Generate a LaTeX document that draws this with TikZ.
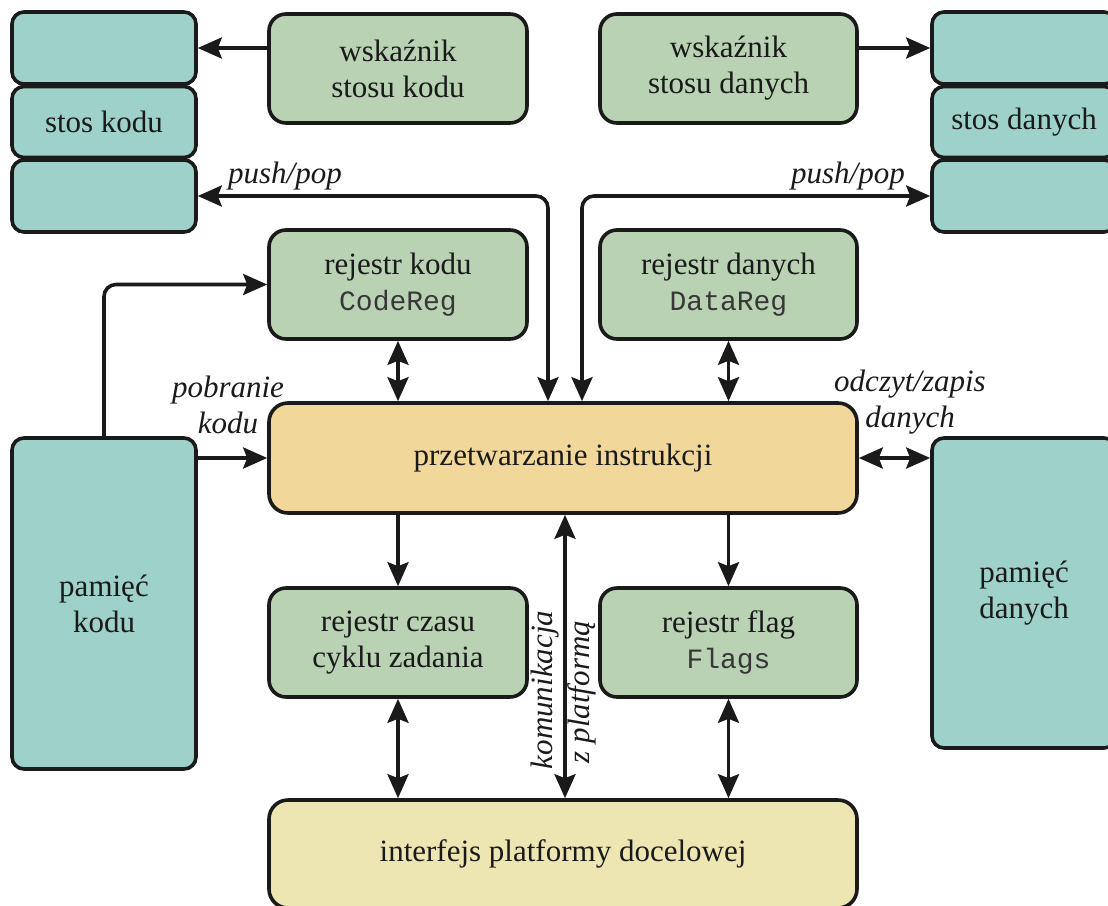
\documentclass[tikz,border=0pt]{standalone}
\usepackage{fontspec}
\setmainfont{Liberation Serif}
\setmonofont{Liberation Mono}
\usetikzlibrary{arrows.meta,calc}
\definecolor{cTeal}{RGB}{157,209,201}
\definecolor{cGreen}{RGB}{185,210,180}
\definecolor{cOrange}{RGB}{241,216,154}
\definecolor{cYellow}{RGB}{238,230,178}
\definecolor{cLine}{RGB}{26,26,26}
\definecolor{cMono}{RGB}{55,55,55}
\begin{document}
\begin{tikzpicture}[x=1pt,y=-1pt,
  box/.style={draw=cLine, line width=3.6pt, inner sep=0pt, align=center,
    font=\fontsize{31}{36}\selectfont, text=cLine},
  tealbox/.style={box, fill=cTeal, rounded corners=12pt},
  greenbox/.style={box, fill=cGreen, rounded corners=17pt},
  lbl/.style={font=\fontsize{31}{36}\selectfont\itshape, text=cLine, align=center, inner sep=0pt},
  tip/.tip={Stealth[length=24pt,width=21pt,inset=4pt]},
  arr/.style={draw=cLine, line width=3.6pt, -tip},
  dbl/.style={draw=cLine, line width=3.6pt, tip-tip}]
\useasboundingbox (0,0) rectangle (1108,905);
\clip (0,0) rectangle (1108,905);
\newcommand{\mtxt}[1]{{\color{cMono}\fontsize{28}{36}\selectfont\ttfamily #1}}
% stacks
\node[tealbox, minimum width=184pt, minimum height=72pt] (ls1) at (104,48) {};
\node[tealbox, minimum width=184pt, minimum height=71pt] (ls2) at (104,122) {stos kodu};
\node[tealbox, minimum width=184pt, minimum height=72pt] (ls3) at (104,196) {};
\node[tealbox, minimum width=184pt, minimum height=72pt] (rs1) at (1024,48) {};
\node[tealbox, minimum width=184pt, minimum height=71pt] (rs2) at (1024,122) {stos danych};
\node[tealbox, minimum width=184pt, minimum height=72pt] (rs3) at (1024,196) {};
% pointers
\node[greenbox, minimum width=258pt, minimum height=109pt] (wk) at (398,68.5) {wskaźnik\\stosu kodu};
\node[greenbox, minimum width=257pt, minimum height=109pt] (wd) at (728.5,68.5) {wskaźnik\\stosu danych};
% registers
\node[greenbox, minimum width=258pt, minimum height=109pt] (rk) at (398,284.5) {rejestr kodu\\\mtxt{CodeReg}};
\node[greenbox, minimum width=257pt, minimum height=109pt] (rd) at (728.5,284.5) {rejestr danych\\\mtxt{DataReg}};
\node[greenbox, minimum width=258pt, minimum height=109pt] (rc) at (398,642.5) {rejestr czasu\\cyklu zadania};
\node[greenbox, minimum width=257pt, minimum height=109pt] (rf) at (728.5,642.5) {rejestr flag\\\mtxt{Flags}};
% main
\node[box, fill=cOrange, rounded corners=19pt, minimum width=588pt, minimum height=110pt] (proc) at (563,458) {przetwarzanie instrukcji};
\node[box, fill=cYellow, rounded corners=19pt, minimum width=588pt, minimum height=108pt] (ip) at (563,854) {interfejs platformy docelowej};
% memories
\node[tealbox, minimum width=184pt, minimum height=331pt] (pk) at (104,603.5) {pamięć\\kodu};
\node[tealbox, minimum width=184pt, minimum height=310pt] (pd) at (1024,593) {pamięć\\danych};
% connectors
\draw[arr] (wk.west |- ls1.east) -- (ls1.east);
\draw[arr] (wd.east |- rs1.west) -- (rs1.west);
\draw[dbl, rounded corners=12pt] ($(proc.north)+(-15,0)$) |- (ls3.east);
\draw[dbl, rounded corners=12pt] ($(proc.north)+(19,0)$) |- (rs3.west);
\draw[arr, rounded corners=12pt] (pk.north) |- (rk.west);
\draw[arr] (proc.west -| pk.east) -- (proc.west);
\draw[dbl] (proc.east) -- (proc.east -| pd.west);
\draw[dbl] (rk.south) -- (rk.south |- proc.north);
\draw[dbl] (rd.south) -- (rd.south |- proc.north);
\draw[arr] (proc.south -| rc.north) -- (rc.north);
\draw[arr] (proc.south -| rf.north) -- (rf.north);
\draw[dbl] (rc.south) -- (rc.south |- ip.north);
\draw[dbl] (rf.south) -- (rf.south |- ip.north);
\draw[dbl] ($(ip.north)+(2,0)$) coordinate (kb) -- (kb |- proc.south);
% labels
\node[lbl] (lpp1) at (285,176) {push/pop};
\node[lbl] (lpp2) at (848,176) {push/pop};
\node[lbl] (lpk) at (228,405) {pobranie\\kodu};
\node[lbl] (lodz) at (910,402) {odczyt/zapis\\danych};
\node[lbl, rotate=90] (lkom1) at (545,690) {komunikacja};
\node[lbl, rotate=90] (lkom2) at (582,692) {z platformą};
\end{tikzpicture}
\end{document}
